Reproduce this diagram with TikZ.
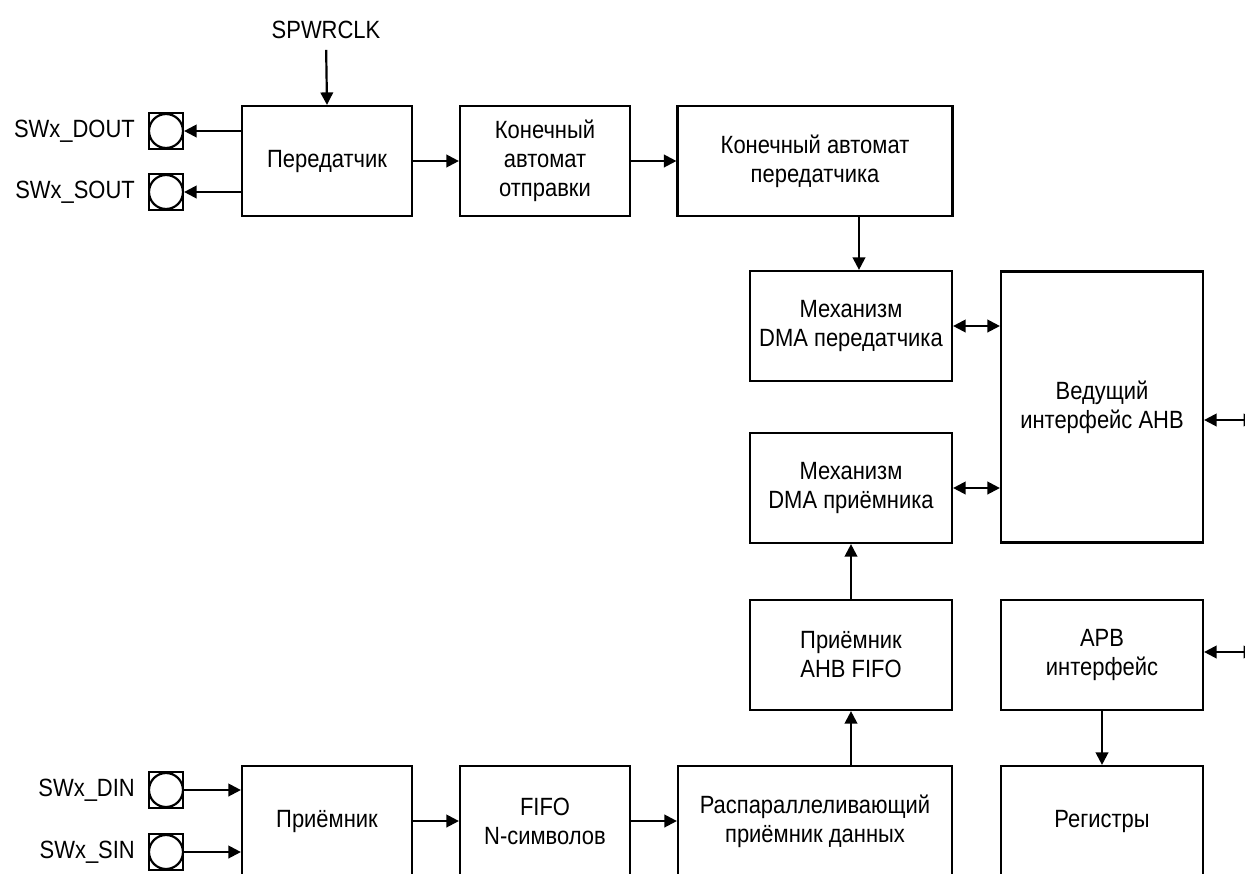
\documentclass[tikz,border=0pt]{standalone}
\usepackage{fontspec}
\setmainfont{Liberation Sans}[FakeStretch=0.88]
\usetikzlibrary{arrows.meta,positioning}

\begin{document}
\begin{tikzpicture}[x=0.02cm, y=-0.02cm, line width=1.25pt,
  font=\fontsize{14.2}{16.5}\selectfont,
  blk/.style={draw, align=center, inner sep=0pt, minimum width=3.4cm, minimum height=2.2cm},
  pad/.style={draw, inner sep=0pt, minimum width=0.68cm, minimum height=0.72cm,
    path picture={\draw (path picture bounding box.center) circle (0.34cm);}},
  lbl/.style={inner sep=0pt},
  arr/.style={-{Triangle[length=0.25cm, width=0.25cm]}},
  biarr/.style={{Triangle[length=0.25cm, width=0.25cm]}-{Triangle[length=0.25cm, width=0.25cm]}}]
\useasboundingbox (0,0) rectangle (1245,873);
\clip (0,0) rectangle (1245,873);
% transmit path
\node[blk] (tx) at (327,161) {Передатчик};
\node[blk] (sfsm) at (545,161) {Конечный\\автомат\\отправки};
\node[blk, minimum width=5.5cm] (tfsm) at (815,161) {Конечный автомат\\передатчика};
\node[blk, minimum width=4.04cm] (dmat) at (851,326) {Механизм\\DMA передатчика};
\node[blk, minimum width=4.04cm, minimum height=5.42cm] (ahb) at (1102,407) {Ведущий\\интерфейс AHB};
% receive path
\node[blk, minimum width=4.04cm] (dmar) at (851,488) {Механизм\\DMA приёмника};
\node[blk, minimum width=4.04cm] (rxf) at (851,655) {Приёмник\\AHB FIFO};
\node[blk, minimum width=4.04cm] (apb) at (1102,655) {APB\\интерфейс};
\node[blk, minimum width=4.04cm] (regs) at (1102,821) {Регистры};
\node[blk] (rx) at (327,821) {Приёмник};
\node[blk] (fifo) at (545,821) {FIFO\\N-символов};
\node[blk, minimum width=5.48cm] (deser) at (815,821) {Распараллеливающий\\приёмник данных};
% pads
\node[pad] (pdout) at (166,131) {};
\node[pad] (psout) at (166,192) {};
\node[pad] (pdin) at (166,790) {};
\node[pad] (psin) at (166,852) {};
\node[lbl, left=0.24cm of pdout] (ldout) {SWx\_DOUT};
\node[lbl, left=0.24cm of psout] (lsout) {SWx\_SOUT};
\node[lbl, left=0.24cm of pdin] (ldin) {SWx\_DIN};
\node[lbl, left=0.24cm of psin] (lsin) {SWx\_SIN};
\node[lbl] (clk) at (326,30) {SPWRCLK};
\coordinate (tdown) at ([xshift=0.16cm]dmat.north);
\coordinate (ahbport) at (1256,420);
\coordinate (apbport) at (1256,652);
% connections
\draw[arr, shorten <=0.2cm] (clk.south) -- (tx.north);
\draw[arr] (pdout -| tx.west) -- (pdout.east);
\draw[arr] (psout -| tx.west) -- (psout.east);
\draw[arr] (tx) -- (sfsm);
\draw[arr] (sfsm) -- (tfsm);
\draw[arr] (tdown |- tfsm.south) -- (tdown);
\draw[biarr] (dmat) -- (dmat -| ahb.west);
\draw[biarr] (dmar) -- (dmar -| ahb.west);
\draw[biarr] (ahb.east |- ahbport) -- (ahbport);
\draw[biarr] (apb.east |- apbport) -- (apbport);
\draw[arr] (rxf) -- (dmar);
\draw[arr] (rxf |- deser.north) -- (rxf);
\draw[arr] (apb) -- (regs);
\draw[arr] (pdin) -- (pdin -| rx.west);
\draw[arr] (psin) -- (psin -| rx.west);
\draw[arr] (rx) -- (fifo);
\draw[arr] (fifo) -- (deser);
\end{tikzpicture}
\end{document}
